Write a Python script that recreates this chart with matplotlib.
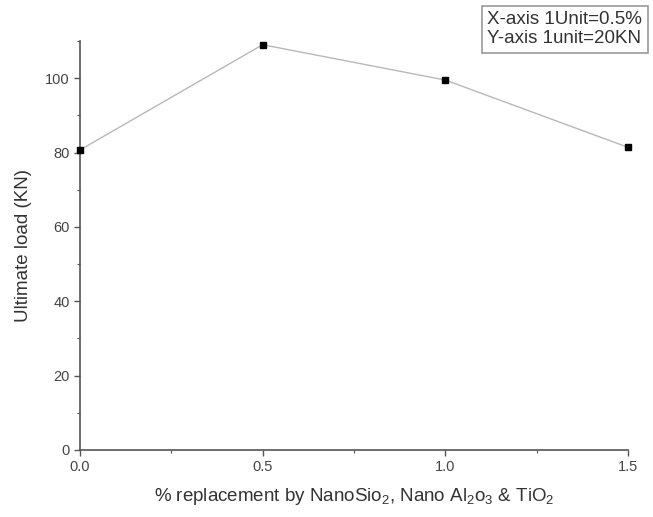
import matplotlib
matplotlib.use('Agg')
from matplotlib import pyplot as plt
from matplotlib.ticker import MultipleLocator

plt.rcParams['font.family'] = ['Liberation Sans', 'DejaVu Sans']
plt.rcParams['mathtext.default'] = 'regular'

replacement = [0.0, 0.5, 1.0, 1.5]
ultimate_load = [80.7, 109.0, 99.5, 81.4]
note_lines = ['X-axis 1Unit=0.5%', 'Y-axis 1unit=20KN']

fig = plt.figure(figsize=(6.53, 5.17), dpi=100)
ax = fig.add_axes([0.1225, 0.1296, 0.8392, 0.7911])

ax.plot(replacement, ultimate_load, color='#b8b8b8', lw=1.0, zorder=2, clip_on=False)
ax.plot(replacement, ultimate_load, ls='none', marker='s', ms=5, color='black',
        zorder=3, clip_on=False)

ax.set_xlim(0, 1.5)
ax.set_ylim(0, 110)
ax.xaxis.set_major_locator(MultipleLocator(0.5))
ax.xaxis.set_minor_locator(MultipleLocator(0.25))
ax.yaxis.set_major_locator(MultipleLocator(20))
ax.yaxis.set_minor_locator(MultipleLocator(10))
ax.xaxis.set_major_formatter(plt.FormatStrFormatter('%.1f'))

for side in ['top', 'right']:
    ax.spines[side].set_visible(False)
for side in ['left', 'bottom']:
    ax.spines[side].set_color('#555555')
    ax.spines[side].set_linewidth(1.2)

ax.tick_params(axis='both', which='major', direction='out', length=4, width=1,
               colors='#555555', labelsize=10.5, labelcolor='#444444')
ax.tick_params(axis='both', which='minor', direction='out', length=2.5, width=0.8,
               colors='#555555')

ax.set_ylabel('Ultimate load (KN)', fontsize=13.5, color='#333333', labelpad=9)
ax.set_xlabel('% replacement by NanoSio$_2$, Nano Al$_2$o$_3$ & TiO$_2$',
              fontsize=13.5, color='#333333', labelpad=8)

fig.text(0.746, 0.978, '\n'.join(note_lines), ha='left', va='top', fontsize=13.5,
         color='#333333', linespacing=1.15,
         bbox=dict(boxstyle='square,pad=0.3', facecolor='white', edgecolor='#999999', lw=1.2))

fig.savefig('out.png', dpi=100)
